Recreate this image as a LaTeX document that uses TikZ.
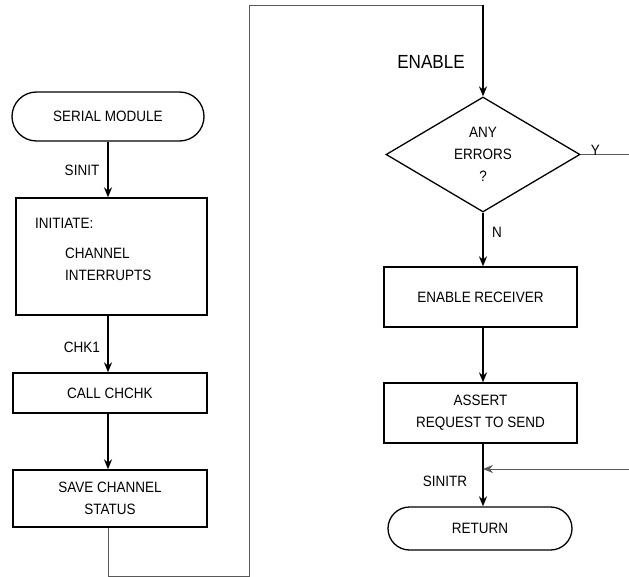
\documentclass[tikz,border=0pt]{standalone}
\usepackage{fontspec}
\setmainfont{Liberation Sans}[FakeStretch=0.9]
\usetikzlibrary{shapes.geometric,shapes.misc,arrows.meta}
\begin{document}
\begin{tikzpicture}[x=1pt,y=-1pt,
  every node/.style={font=\fontsize{15}{22}\selectfont, inner sep=0pt},
  term/.style={draw, rounded rectangle, line width=1.3pt},
  pbox/.style={draw, rectangle, line width=1.3pt, align=center},
  dec/.style={draw, diamond, line width=1.3pt, align=center},
  flow/.style={line width=1.6pt, -{Stealth[length=10pt,width=8pt]}},
  loopline/.style={line width=0.8pt, draw=black!65},
  lbl/.style={font=\fontsize{15}{17}\selectfont}]
\useasboundingbox (0,0) rectangle (629,577);
% left column
\node[term, minimum width=192pt, minimum height=49pt] (serial) at (108,116.5) {SERIAL MODULE};
\node[pbox, minimum width=191pt, minimum height=117pt] (init) at (111.5,256.5) {};
\node[lbl, anchor=west] (initA) at (35,223) {INITIATE:};
\node[lbl, anchor=west] (initB) at (65,253) {CHANNEL};
\node[lbl, anchor=west] (initC) at (65,275) {INTERRUPTS};
\node[pbox, minimum width=194pt, minimum height=40pt] (call) at (110,393) {CALL CHCHK};
\node[pbox, minimum width=194pt, minimum height=57pt] (save) at (110,498.5) {SAVE CHANNEL\\STATUS};
\node[lbl] (sinit) at (82,170) {SINIT};
\node[lbl] (chk1) at (82,347) {CHK1};
\draw[flow] (serial.south) -- (serial.south |- init.north);
\draw[flow] (serial.south |- init.south) -- (serial.south |- call.north);
\draw[flow] (call.south -| serial.south) -- (serial.south |- save.north);
% connector to the right column
\coordinate (lb) at (249,576);
\coordinate (lt) at (249,5);
\coordinate (ent) at (483,5);
\draw[loopline] (serial.south |- save.south) |- (lb) -- (lt) -- (ent);
% right column
\node[font=\fontsize{19}{22}\selectfont] (enable) at (431,62) {ENABLE};
\node[dec, minimum width=194pt, minimum height=115pt] (diam) at (483,154.5) {ANY\\ERRORS\\?};
\node[pbox, minimum width=193pt, minimum height=60pt] (recv) at (480.5,297) {ENABLE RECEIVER};
\node[pbox, minimum width=193pt, minimum height=60pt] (assert) at (480.5,413) {ASSERT\\REQUEST TO SEND};
\node[term, minimum width=184pt, minimum height=43pt] (ret) at (480,528.5) {RETURN};
\node[lbl] (n) at (497,232) {N};
\node[lbl] (sinitr) at (445,481) {SINITR};
\draw[flow] (ent) -- (diam.north);
\draw[flow] (diam.south) -- (diam.south |- recv.north);
\draw[flow] (diam.south |- recv.south) -- (diam.south |- assert.north);
\draw[flow] (diam.south |- assert.south) -- (diam.south |- ret.north);
\coordinate (yend) at (629,154.5);
\draw[loopline] (diam.east) -- (yend);
\node[lbl, anchor=south west] (y) at ([xshift=10pt,yshift=-1pt]diam.east) {Y};
\coordinate (rin) at (629,469);
\coordinate (rjoin) at (483,469);
\draw[loopline, -{Stealth[length=10pt,width=8pt]}] (rin) -- (rjoin);
\end{tikzpicture}
\end{document}
